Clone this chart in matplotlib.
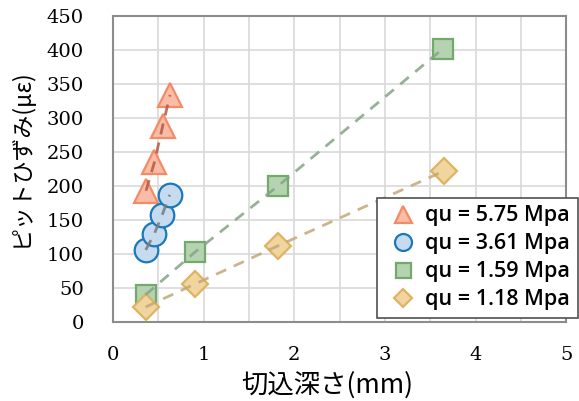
import matplotlib
matplotlib.use("Agg")
import matplotlib.pyplot as plt
from matplotlib.ticker import MultipleLocator

# Cutting depth (mm) vs. pit strain (µε) for four rock strengths
labels = ["qu = 5.75 Mpa", "qu = 3.61 Mpa", "qu = 1.59 Mpa", "qu = 1.18 Mpa"]

depth_575 = [0.365, 0.458, 0.55, 0.63]
strain_575 = [193, 235, 289, 334]

depth_361 = [0.362, 0.454, 0.542, 0.627]
strain_361 = [106, 129, 157, 187]

depth_159 = [0.36, 0.907, 1.82, 3.64]
strain_159 = [40, 103, 200, 402]

depth_118 = [0.36, 0.907, 1.82, 3.65]
strain_118 = [22, 56, 112, 222]

xticks = [0, 1, 2, 3, 4, 5]
yticks = [0, 50, 100, 150, 200, 250, 300, 350, 400, 450]

jp_font = ["Noto Sans CJK JP", "DejaVu Sans"]

fig = plt.figure(figsize=(5.79, 4.01), dpi=100)
ax = fig.add_axes([0.195, 0.197, 0.783, 0.763])

series = [
    (depth_575, strain_575, "^", 17, "#f9bca6", "#f58a66", "#b35a45"),
    (depth_361, strain_361, "o", 17, "#c6daf0", "#1a78bb", "#7a7a7a"),
    (depth_159, strain_159, "s", 15, "#b6d3b1", "#72aa6c", "#86a386"),
    (depth_118, strain_118, "D", 13, "#f1d59e", "#dcb463", "#c2a878"),
]

for (xs, ys, mk, ms, fc, ec, lc), lab in zip(series, labels):
    ax.plot(xs, ys, linestyle="none", marker=mk, markersize=ms,
            markerfacecolor=fc, markeredgecolor=ec, markeredgewidth=1.6,
            zorder=3, label=lab)
    ax.plot(xs, ys, linestyle=(0, (4, 3)), color=lc, linewidth=2,
            alpha=0.85, zorder=4)

ax.set_xlim(0, 5)
ax.set_ylim(0, 450)
ax.set_xticks(xticks)
ax.set_yticks(yticks)
ax.xaxis.set_minor_locator(MultipleLocator(0.5))
ax.grid(True, which="both", color="#d9d9d9", linewidth=1.2, zorder=0)
ax.set_axisbelow(True)
ax.tick_params(which="both", length=0)
ax.tick_params(axis="x", pad=17)
ax.tick_params(axis="y", pad=21)
for lbl in ax.get_xticklabels() + ax.get_yticklabels():
    lbl.set_fontfamily("DejaVu Serif")
    lbl.set_fontsize(14)
for sp in ax.spines.values():
    sp.set_color("#8c8c8c")
    sp.set_linewidth(1.5)

ax.set_xlabel("切込深さ(mm)", family=jp_font, fontsize=19)
ax.set_ylabel("ピットひずみ(με)", family=jp_font, fontsize=16.5)
ax.xaxis.set_label_coords(0.472, -0.16)
ax.yaxis.set_label_coords(-0.177, 0.536)

leg = ax.legend(loc="lower right", bbox_to_anchor=(0.998, 0.207),
                bbox_transform=fig.transFigure, borderaxespad=0,
                prop={"family": "Open Sans", "size": 15.5, "weight": "semibold"},
                markerscale=0.72, handlelength=1.7, handletextpad=0.2,
                borderpad=0.35, labelspacing=0.33, fancybox=False,
                framealpha=1, edgecolor="#505050")
leg.get_frame().set_linewidth(1.2)

fig.savefig("out.png", dpi=100)
